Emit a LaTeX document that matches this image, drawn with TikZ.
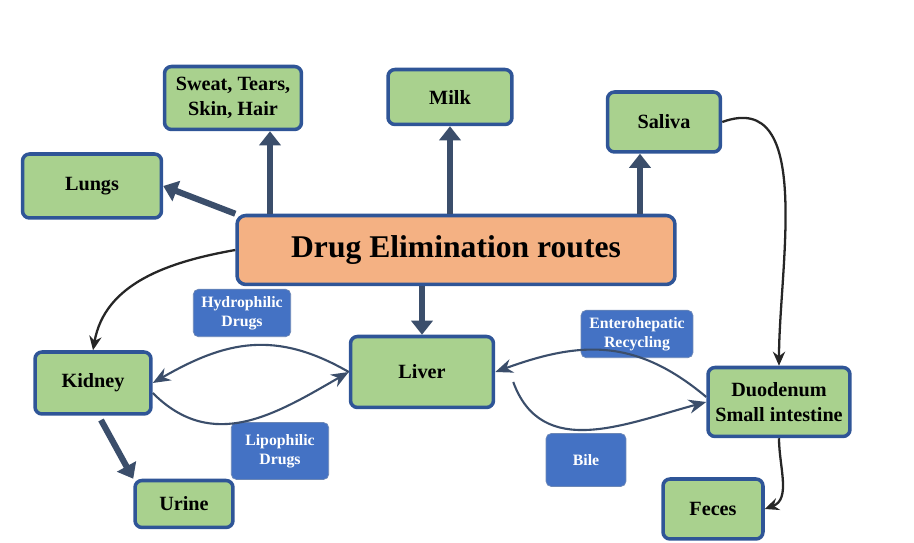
\documentclass[tikz,border=0pt]{standalone}
\usepackage{fontspec}
\setmainfont{Liberation Serif}
\usetikzlibrary{arrows.meta,positioning}
\definecolor{boxgreen}{HTML}{A9D18E}
\definecolor{boxline}{HTML}{2F5597}
\definecolor{mainfill}{HTML}{F4B183}
\definecolor{tagblue}{HTML}{4472C4}
\definecolor{arrowblue}{HTML}{3B4E6B}
\begin{document}
\begin{tikzpicture}[x=0.02cm,y=-0.02cm,% styles for all boxes and arrows
			every node/.style={align=center, font=\bfseries},
			site/.style={rectangle,rounded corners=4pt,draw=boxline,line width=2pt,fill=boxgreen,font=\bfseries\fontsize{11.5}{14}\selectfont},
			tag/.style={rectangle,rounded corners=3pt,draw=boxline!70,fill=tagblue,text=white,font=\bfseries\small,minimum width=1.95cm,minimum height=0.95cm},
			route/.style={draw=arrowblue,line width=3.5pt,-{Triangle[length=8pt,width=12pt]}},
			flow/.style={draw=black!85,line width=1.3pt,-{Stealth[length=8pt,width=7pt]}},
			cycle/.style={draw=arrowblue,line width=1.2pt,-{Stealth[length=10pt,width=8pt]}}
		]
		\useasboundingbox (0,0) rectangle (914,543);
		\node[rectangle,rounded corners=5pt,draw=boxline,line width=2pt,fill=mainfill,minimum width=8.76cm,minimum height=1.38cm,font=\bfseries\fontsize{18}{22}\selectfont](Main) at (456,250){Drug Elimination routes};
		\node[site,minimum width=2.74cm,minimum height=1.26cm](Sweat) at (233,98){Sweat, Tears,\\ Skin, Hair};
		\node[site,minimum width=2.48cm,minimum height=1.1cm](Milk) at (450,97){Milk};
		\node[site,minimum width=2.26cm,minimum height=1.2cm](Saliva) at (664,122){Saliva};
		\node[site,minimum width=2.78cm,minimum height=1.28cm](Lungs) at (92,186){Lungs};
		\node[site,minimum width=2.86cm,minimum height=1.42cm](Liver) at (422,372){Liver};
		\node[site,minimum width=2.32cm,minimum height=1.24cm](Kidney) at (93,383){Kidney};
		\node[site,minimum width=1.96cm,minimum height=0.94cm](Urine) at (184,504){Urine};
		\node[site,minimum width=2.84cm,minimum height=1.38cm](Duo) at (779,402){Duodenum\\ Small intestine};
		\node[site,minimum width=2.0cm,minimum height=1.2cm](Feces) at (713,509){Feces};
		\node[tag](Hydro) at (242,313){Hydrophilic\\ Drugs};
		\node[tag,minimum height=1.14cm](Lipo) at (280,451){Lipophilic\\ Drugs};
		\node[tag,minimum width=2.24cm](Entero) at (637,334){Enterohepatic\\ Recycling};
		\node[tag,minimum width=1.6cm,minimum height=1.06cm](Bile) at (586,460){Bile};
		% thick routes out of the main box
		\draw[route] (Main.north -| 270,0) -- (Sweat.south -| 270,0);
		\draw[route] (Main.north -| Milk) -- (Milk.south);
		\draw[route] (Main.north -| 640,0) -- (Saliva.south -| 640,0);
		\draw[route] (Main.north west) -- (Lungs.east);
		\draw[route] (Main.south -| Liver) -- (Liver.north);
		\draw[route] (101,420) -- (Urine.north west);
		% thin connectors
		\draw[flow] (Main.west) to[out=190,in=80] (Kidney.north);
		\draw[flow] (Saliva.east) to[out=20,in=90] (Duo.north);
		\draw[flow] (Duo.south) to[out=-90,in=20] (Feces.east);
		% cycles
		\draw[cycle] (Liver.west) to[out=150,in=30,looseness=1.1] (Kidney.east);
		\draw[cycle] (Kidney.east) ++(0,10) to[out=-45,in=210,looseness=1.1] (Liver.west);
		\draw[cycle] (Duo.west) ++(0,-5) to[out=140,in=20,looseness=1.1] (Liver.east);
		\draw[cycle] (Liver.east) ++(18,10) to[out=-70,in=195,looseness=1.1] (Duo.west);
	\end{tikzpicture}
\end{document}
